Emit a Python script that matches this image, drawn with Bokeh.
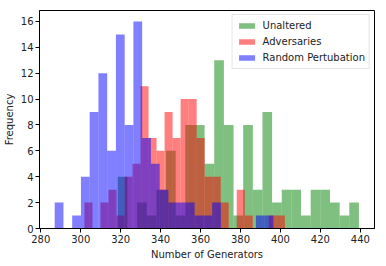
import numpy as np
from bokeh.plotting import figure
from bokeh.models import Range1d, FixedTicker, Legend, LegendItem
from bokeh.embed import file_html
from bokeh.resources import INLINE

# Histogram data (25 bins per series, between each series' min and max)
unaltered_range = (318.55, 439.3)
unaltered_counts = [4, 0, 2, 1, 3, 6, 1, 8, 8, 5, 13, 8, 1, 8, 3, 9, 2, 3, 3, 1, 3, 3, 2, 1, 2]

adversaries_range = (301.85, 402.2)
adversaries_counts = [2, 0, 2, 3, 1, 4, 5, 11, 7, 6, 9, 7, 10, 10, 7, 4, 4, 2, 0, 3, 1, 0, 0, 1, 1]

random_range = (286.96, 396.46)
random_counts = [2, 0, 1, 4, 9, 12, 6, 15, 8, 16, 7, 5, 3, 2, 2, 2, 1, 1, 2, 0, 0, 0, 0, 1, 1]

labels = ["Unaltered", "Adversaries", "Random Pertubation"]
colors = ["#008000", "#ff0000", "#0000ff"]

x_ticks = [280, 300, 320, 340, 360, 380, 400, 420, 440]
y_ticks = [0, 2, 4, 6, 8, 10, 12, 14, 16]

FONT = "DejaVu Sans"

p = figure(frame_width=335, frame_height=218,
           x_range=Range1d(279.35, 447.1), y_range=Range1d(0, 16.85),
           output_backend="svg", toolbar_location=None,
           min_border_left=39, min_border_right=2, min_border_top=10, min_border_bottom=0)

renderers = []
for (lo, hi), counts, col in zip([unaltered_range, adversaries_range, random_range],
                                 [unaltered_counts, adversaries_counts, random_counts], colors):
    edges = np.linspace(lo, hi, len(counts) + 1)
    r = p.quad(left=edges[:-1], right=edges[1:], bottom=0, top=counts,
               fill_color=col, fill_alpha=0.5, line_color=None)
    renderers.append(r)

p.grid.visible = False
p.outline_line_color = "black"
p.outline_line_width = 1

p.xaxis.ticker = FixedTicker(ticks=x_ticks)
p.yaxis.ticker = FixedTicker(ticks=y_ticks)
p.xaxis.axis_label = "Number of Generators"
p.yaxis.axis_label = "Frequency"
for ax in (p.xaxis, p.yaxis):
    ax.minor_tick_line_color = None
    ax.major_tick_in = 0
    ax.major_tick_out = 4
    ax.major_label_standoff = 2
    ax.axis_label_standoff = 3
    ax.major_label_text_font = FONT
    ax.major_label_text_font_size = "10px"
    ax.major_label_text_color = "#222222"
    ax.axis_label_text_font = FONT
    ax.axis_label_text_font_size = "10px"
    ax.axis_label_text_font_style = "normal"
    ax.axis_label_text_color = "#222222"
    ax.axis_line_color = "black"

legend = Legend(items=[LegendItem(label=l, renderers=[r]) for l, r in zip(labels, renderers)])
legend.location = "top_right"
legend.margin = 4
legend.padding = 4
legend.spacing = 3
legend.label_height = 13
legend.glyph_height = 7
legend.glyph_width = 20
legend.label_standoff = 6
legend.label_text_font = FONT
legend.label_text_font_size = "10px"
legend.label_text_color = "#222222"
legend.border_line_color = "#cccccc"
legend.background_fill_alpha = 0.8
p.add_layout(legend)

open("out.html", "w").write(file_html(p, INLINE))
